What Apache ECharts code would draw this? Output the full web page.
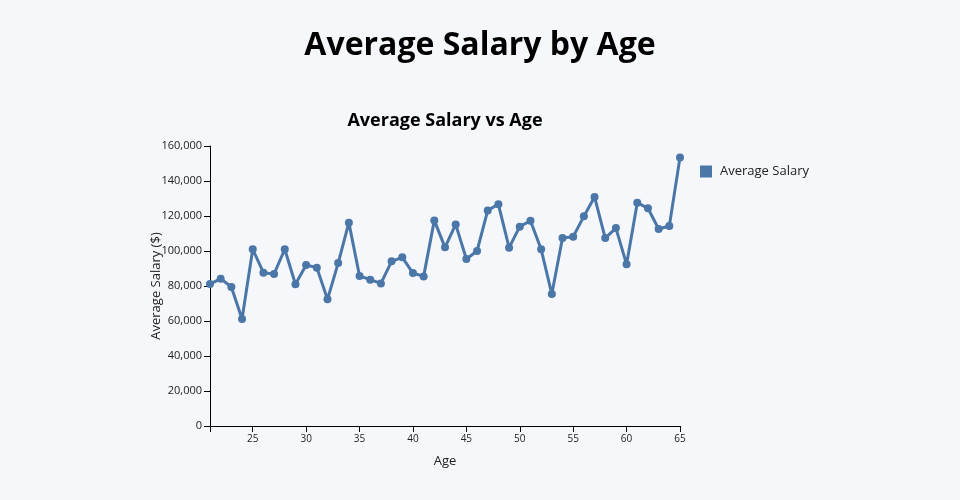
<!DOCTYPE html>
<html>
<head>
<meta charset="utf-8">
<script src="https://cdn.jsdelivr.net/npm/echarts@6/dist/echarts.min.js"></script>
<style>
html,body{margin:0;padding:0;background:#f5f7fb;}
#chart{width:960px;height:500px;}
</style>
</head>
<body>
<div id="chart"></div>
<script>
const ages = [21,22,23,24,25,26,27,28,29,30,31,32,33,34,35,36,37,38,39,40,41,42,43,44,45,46,47,48,49,50,51,52,53,54,55,56,57,58,59,60,61,62,63,64,65];
const salaries = [81100,84200,79400,61100,101000,87600,86900,101000,81000,92000,90500,72400,93100,116200,85700,83600,81500,94100,96400,87400,85500,117500,102100,115200,95400,100000,123200,126700,101900,113900,117300,101000,75400,107400,108200,119800,130900,107400,113100,92400,127600,124400,112600,114300,153500];
const xLabelValues = [25,30,35,40,45,50,55,60,65];
const xTickValues = [21,25,30,35,40,45,50,55,60,65];

const FONT = '"Open Sans", "Noto Sans", sans-serif';
const chart = echarts.init(document.getElementById('chart'));
chart.setOption({
  backgroundColor: '#f5f7fb',
  animation: false,
  textStyle: {fontFamily: FONT},
  title: [
    {text: 'Average Salary by Age', left: 'center', top: 25,
     textStyle: {fontFamily: FONT, fontSize: 32, fontWeight: 'bold', color: '#000'}},
    {text: 'Average Salary vs Age', left: 440, textAlign: 'center', top: 107,
     textStyle: {fontFamily: FONT, fontSize: 18, fontWeight: 'bold', color: '#000'}}
  ],
  legend: {
    left: 695, top: 160, icon: 'rect', itemWidth: 12, itemHeight: 12,
    textStyle: {fontFamily: FONT, fontSize: 13, color: '#222', padding: [0, 0, 0, 3]},
    data: ['Average Salary']
  },
  grid: {left: 210, right: 280, top: 146, bottom: 74},
  xAxis: {
    type: 'value', min: 21, max: 65,
    name: 'Age', nameLocation: 'middle', nameGap: 29,
    nameTextStyle: {fontFamily: FONT, fontSize: 13, color: '#222'},
    axisLine: {show: true, lineStyle: {color: '#000', width: 1}},
    axisTick: {show: true, length: 6, customValues: xTickValues, lineStyle: {color: '#000'}},
    axisLabel: {customValues: xLabelValues, fontFamily: FONT, fontSize: 10, color: '#222', margin: 8},
    splitLine: {show: false}
  },
  yAxis: {
    type: 'value', min: 0, max: 160000, interval: 20000,
    name: 'Average Salary ($)', nameLocation: 'middle', nameGap: 47,
    nameMoveOverlap: false,
    nameTextStyle: {fontFamily: FONT, fontSize: 13, color: '#222'},
    axisLine: {show: true, lineStyle: {color: '#000', width: 1}},
    axisTick: {show: true, length: 6, lineStyle: {color: '#000'}},
    axisLabel: {fontFamily: FONT, fontSize: 11, color: '#222', margin: 8,
      formatter: v => v.toLocaleString('en-US')},
    splitLine: {show: false}
  },
  series: [{
    name: 'Average Salary', type: 'line',
    data: ages.map((a, i) => [a, salaries[i]]),
    symbol: 'circle', symbolSize: 8,
    itemStyle: {color: '#4a76a8'},
    lineStyle: {color: '#4a76a8', width: 3}
  }]
});
</script>
</body>
</html>
